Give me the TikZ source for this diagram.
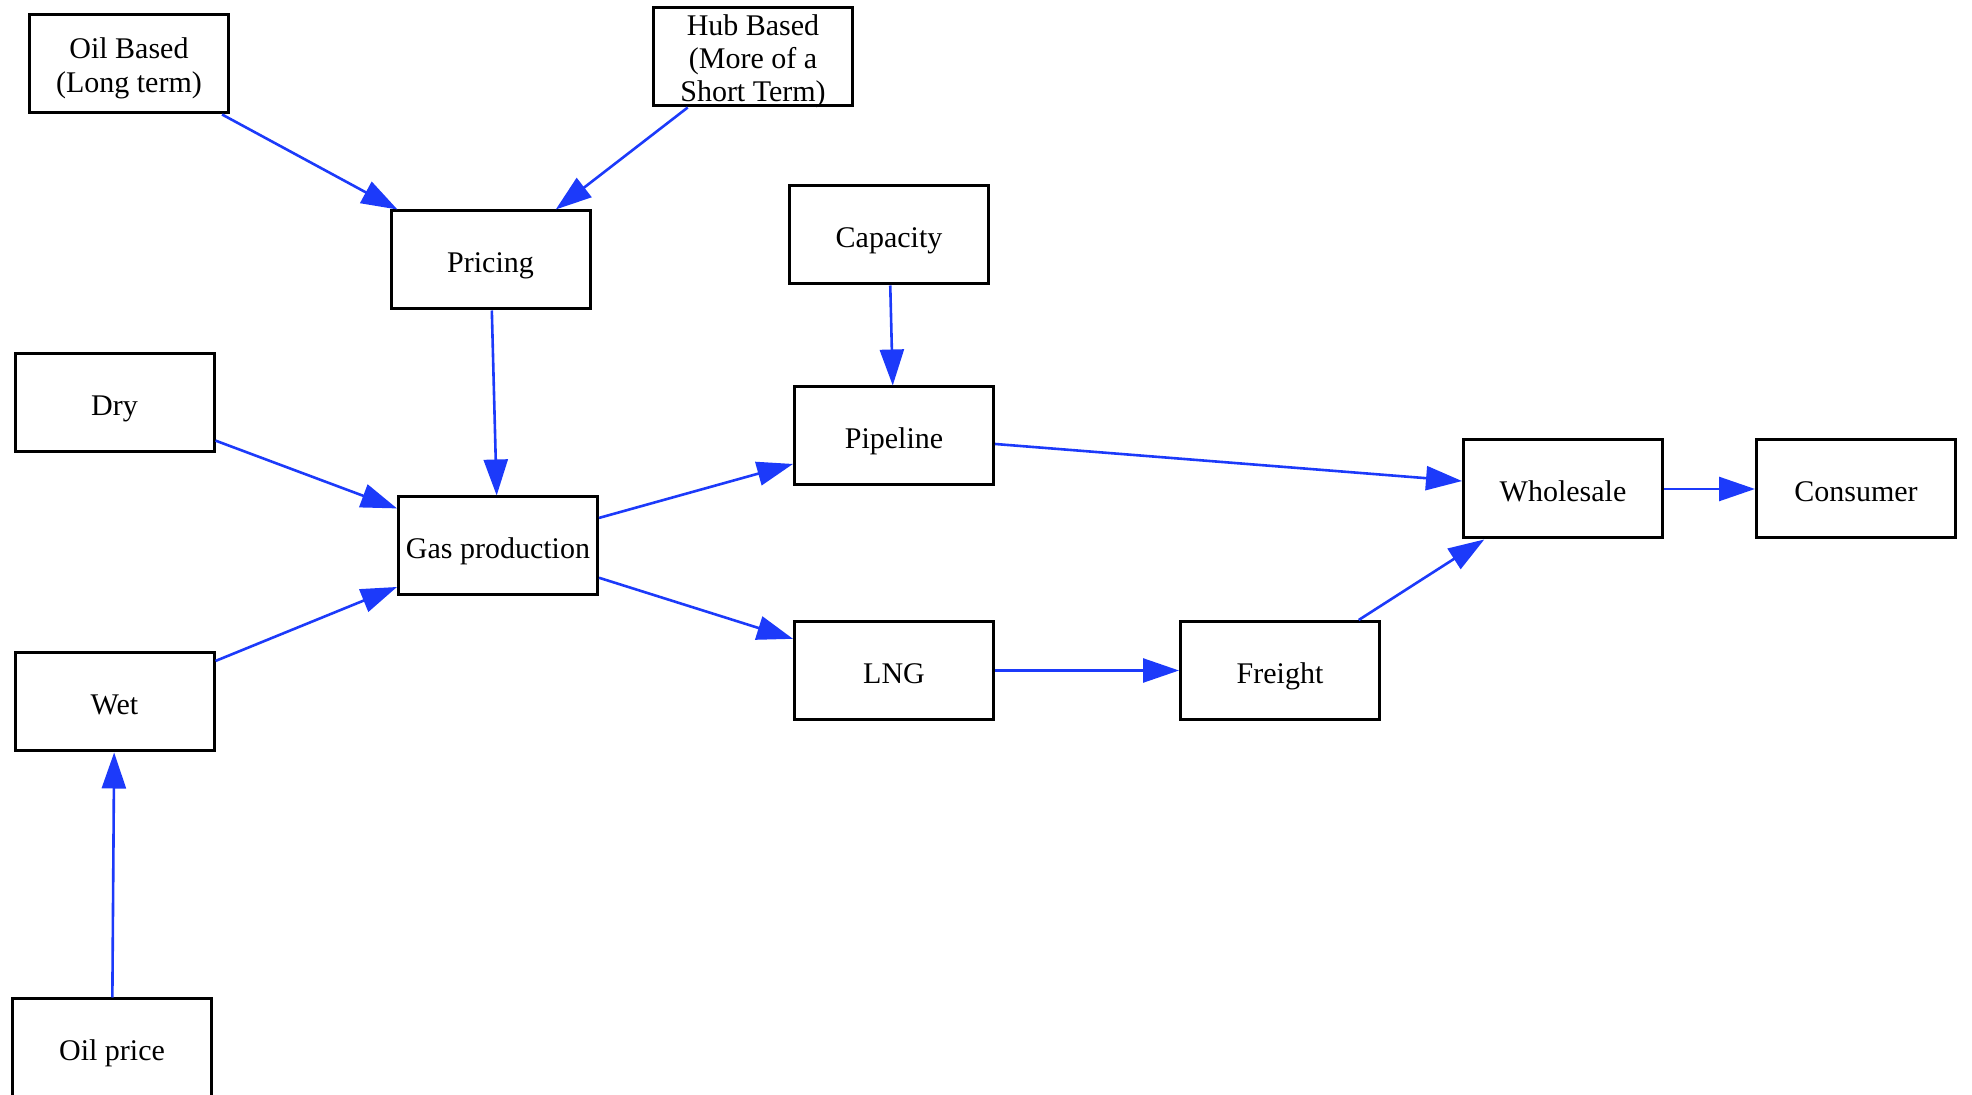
\documentclass[tikz,border=0pt]{standalone}
\usepackage{fontspec}
\setmainfont{Liberation Serif}
\usetikzlibrary{arrows.meta}

\definecolor{edgeblue}{RGB}{28,58,250}
\newcommand{\topstrut}{\rule{0pt}{15pt}}

\tikzset{
  box/.style={draw, line width=1.5pt, minimum width=99.5pt, minimum height=49pt,
    inner xsep=0pt, inner ysep=-3pt, align=center, font=\fontsize{15}{16.5}\selectfont,
    execute at begin node={\rule[-3pt]{0pt}{19pt}}},
  link/.style={edgeblue, line width=1.3pt, -{Triangle[length=18pt,width=12pt]}}
}

\begin{document}
\begin{tikzpicture}[x=0.5pt, y=-0.5pt]
	\useasboundingbox (0,0) rectangle (1972,1095);
	% boxes
	\node[box] (oilbased) at (129,64) {\topstrut Oil Based\\[0.6pt](Long term)};
	\node[box] (hubbased) at (753,57) {\topstrut Hub Based\\(More of a\\Short Term)};
	\node[box] (pricing) at (490.5,260) {Pricing};
	\node[box] (capacity) at (889,235) {Capacity};
	\node[box] (dry) at (114.5,403) {Dry};
	\node[box] (pipeline) at (894,436) {Pipeline};
	\node[box] (gasprod) at (498,546) {Gas production};
	\node[box] (wholesale) at (1563,489) {Wholesale};
	\node[box] (consumer) at (1856,489) {Consumer};
	\node[box] (wet) at (114.5,702) {Wet};
	\node[box] (lng) at (894,670.5) {LNG};
	\node[box] (freight) at (1280,670.5) {Freight};
	\node[box] (oilprice) at (112,1048) {Oil price};
	% arrows
	\draw[link] (oilbased) -- (pricing);
	\draw[link] (hubbased) -- (pricing);
	\draw[link] (pricing) -- (gasprod);
	\draw[link] (capacity) -- (pipeline);
	\draw[link] (dry) -- (gasprod);
	\draw[link] (wet) -- (gasprod);
	\draw[link] (oilprice) -- (wet);
	\draw[link] (gasprod) -- (pipeline);
	\draw[link] (gasprod) -- (lng);
	\draw[link] (pipeline) -- (wholesale);
	\draw[link] (lng) -- (freight);
	\draw[link] (freight) -- (wholesale);
	\draw[link] (wholesale) -- (consumer);
\end{tikzpicture}
\end{document}
